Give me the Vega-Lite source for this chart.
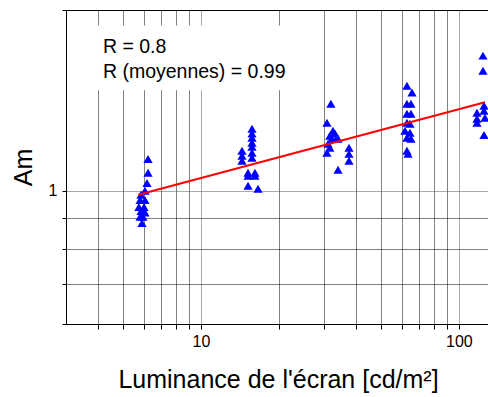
{
  "$schema": "https://vega.github.io/schema/vega-lite/v6.json",
  "width": 424,
  "height": 314,
  "autosize": {"type": "none"},
  "padding": {"left": 66, "top": 10, "right": 0, "bottom": 73},
  "config": {
    "view": {"stroke": "black", "strokeWidth": 1},
    "font": "Liberation Sans"
  },
  "datasets": {
    "points": [
      {"x": 6.24, "y": 1.13}, {"x": 6.24, "y": 1.072}, {"x": 6.18, "y": 1.03}, {"x": 6.07, "y": 1.0},
      {"x": 5.86, "y": 0.985}, {"x": 5.81, "y": 0.965}, {"x": 6.07, "y": 0.965}, {"x": 5.75, "y": 0.94},
      {"x": 6.02, "y": 0.94}, {"x": 5.86, "y": 0.925}, {"x": 6.07, "y": 0.92}, {"x": 5.81, "y": 0.905},
      {"x": 5.96, "y": 0.905}, {"x": 5.91, "y": 0.884},
      {"x": 15.78, "y": 1.269}, {"x": 15.78, "y": 1.245}, {"x": 15.78, "y": 1.226}, {"x": 15.78, "y": 1.202},
      {"x": 15.78, "y": 1.184}, {"x": 15.78, "y": 1.157}, {"x": 15.78, "y": 1.135}, {"x": 14.43, "y": 1.166},
      {"x": 14.43, "y": 1.144}, {"x": 14.43, "y": 1.122}, {"x": 15.23, "y": 1.072}, {"x": 16.2, "y": 1.072},
      {"x": 15.23, "y": 1.059}, {"x": 16.2, "y": 1.059}, {"x": 15.23, "y": 1.019}, {"x": 16.65, "y": 1.008},
      {"x": 31.9, "y": 1.396}, {"x": 30.8, "y": 1.298}, {"x": 32.5, "y": 1.259}, {"x": 33.1, "y": 1.245},
      {"x": 31.6, "y": 1.235}, {"x": 33.7, "y": 1.226}, {"x": 32.2, "y": 1.221}, {"x": 34.0, "y": 1.221},
      {"x": 31.1, "y": 1.198}, {"x": 31.6, "y": 1.179}, {"x": 30.8, "y": 1.157}, {"x": 37.5, "y": 1.179},
      {"x": 37.5, "y": 1.152}, {"x": 37.5, "y": 1.122}, {"x": 34.0, "y": 1.084},
      {"x": 62.9, "y": 1.496}, {"x": 65.8, "y": 1.457}, {"x": 62.9, "y": 1.396}, {"x": 65.2, "y": 1.396},
      {"x": 62.9, "y": 1.344}, {"x": 65.2, "y": 1.344}, {"x": 62.9, "y": 1.298}, {"x": 64.6, "y": 1.293},
      {"x": 61.8, "y": 1.259}, {"x": 64.6, "y": 1.249}, {"x": 62.9, "y": 1.226}, {"x": 65.2, "y": 1.221},
      {"x": 62.9, "y": 1.166}, {"x": 63.5, "y": 1.152},
      {"x": 124.0, "y": 1.679}, {"x": 124.0, "y": 1.585}, {"x": 125.1, "y": 1.386}, {"x": 117.5, "y": 1.349},
      {"x": 125.1, "y": 1.359}, {"x": 117.5, "y": 1.318}, {"x": 126.2, "y": 1.323}, {"x": 117.5, "y": 1.298},
      {"x": 125.1, "y": 1.239}
    ],
    "fit": [
      {"x": 5.72, "y": 0.985},
      {"x": 126.2, "y": 1.404}
    ],
    "box": [
      {"x": 3.05, "x2": 24, "y": 1.47, "y2": 1.884}
    ],
    "notes": [
      {"x": 4.17, "y": 1.698, "label": "R = 0.8"},
      {"x": 4.17, "y": 1.543, "label": "R (moyennes) = 0.99"}
    ]
  },
  "encoding": {
    "x": {
      "field": "x",
      "type": "quantitative",
      "scale": {"type": "log", "domain": [3, 132], "nice": false, "zero": false},
      "axis": {
        "title": "Luminance de l'écran [cd/m²]",
        "values": [4, 5, 6, 7, 8, 9, 10, 20, 30, 40, 50, 60, 70, 80, 90, 100],
        "labelExpr": "datum.value == 10 ? '10' : (datum.value == 100 ? '100' : '')",
        "labelFontSize": 16,
        "labelColor": "black",
        "labelPadding": 4,
        "labelOverlap": false,
        "labelFlush": false,
        "tickSize": 5,
        "tickColor": "black",
        "domainColor": "black",
        "grid": true,
        "gridDash": [1, 1],
        "gridColor": {"condition": {"test": "datum.value == 10 || datum.value == 100", "value": "#555555"}, "value": "#000000"},
        "gridOpacity": 1,
        "titleFontSize": 25,
        "titleFontWeight": "normal",
        "titleColor": "black",
        "titlePadding": 18
      }
    },
    "y": {
      "field": "y",
      "type": "quantitative",
      "scale": {"type": "log", "domain": [0.6, 2], "nice": false, "zero": false},
      "axis": {
        "title": "Am",
        "values": [0.6, 0.7, 0.8, 0.9, 1, 2],
        "labelExpr": "datum.value == 1 ? '1' : ''",
        "labelFontSize": 16,
        "labelColor": "black",
        "labelPadding": 5,
        "labelOverlap": false,
        "labelFlush": false,
        "tickSize": 4,
        "tickColor": "black",
        "domainColor": "black",
        "grid": true,
        "gridDash": [1, 1],
        "gridColor": {"condition": {"test": "datum.value == 1", "value": "#555555"}, "value": "#000000"},
        "gridOpacity": 1,
        "titleFontSize": 25,
        "titleFontWeight": "normal",
        "titleColor": "black",
        "titlePadding": 12
      }
    }
  },
  "layer": [
    {
      "data": {"name": "box"},
      "mark": {"type": "rect", "fill": "white", "stroke": null},
      "encoding": {"x2": {"field": "x2"}, "y2": {"field": "y2"}}
    },
    {
      "data": {"name": "notes"},
      "mark": {"type": "text", "align": "left", "baseline": "alphabetic", "fontSize": 19.5, "font": "Liberation Sans", "color": "black"},
      "encoding": {"text": {"field": "label"}}
    },
    {
      "data": {"name": "points"},
      "mark": {"type": "point", "shape": "triangle-up", "filled": true, "size": 85, "color": "#0000ff", "opacity": 1}
    },
    {
      "data": {"name": "fit"},
      "mark": {"type": "line", "color": "#ff0000", "strokeWidth": 2},
      "encoding": {}
    }
  ]
}
